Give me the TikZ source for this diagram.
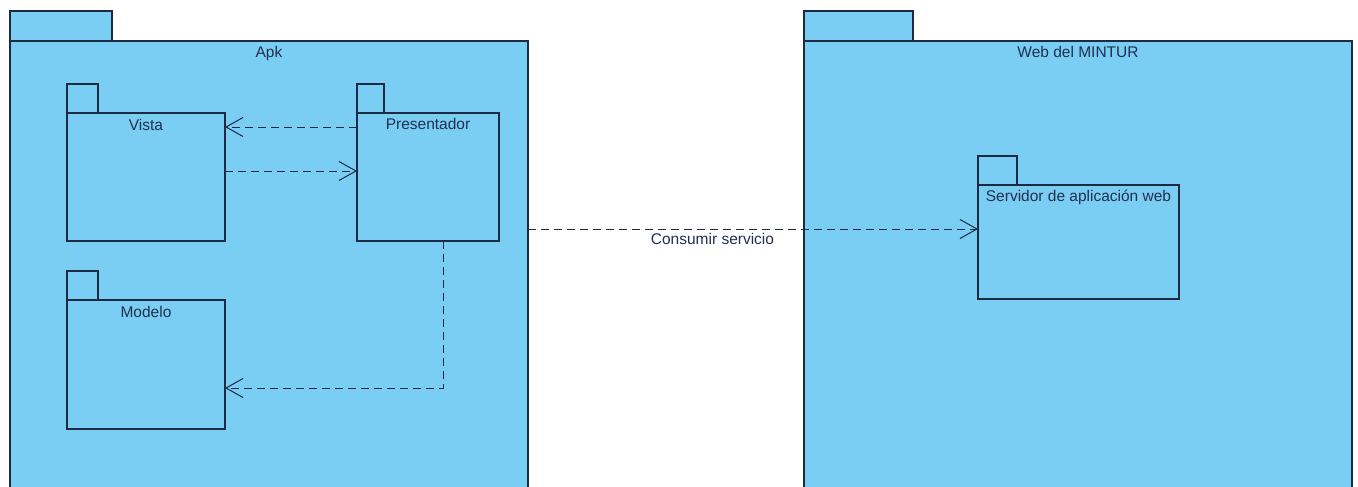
\documentclass[tikz,border=0pt]{standalone}
\usepackage{fontspec}
\setmainfont{Liberation Sans}
\usetikzlibrary{arrows.meta,positioning}
\definecolor{pkgfill}{RGB}{122,205,243}
\definecolor{pkgline}{RGB}{30,42,66}
\definecolor{pkgtext}{RGB}{32,48,80}

\begin{document}
\begin{tikzpicture}[x=1pt, y=-1pt,
    pkg/.style={draw=pkgline, fill=pkgfill, line width=1.1pt, anchor=north west, inner sep=0pt, outer sep=0pt},
    pkgtab/.style={pkg, anchor=south west},
    pkgname/.style={text=pkgtext, font=\fontsize{15.5}{18}\selectfont, inner sep=1pt, anchor=north},
    dep/.style={draw=pkgline, line width=1pt, dash pattern=on 8pt off 5pt, -{Straight Barb[length=17pt, width=19pt, line width=1pt]}}]
  \useasboundingbox (0,0) rectangle (1358,487);
  % outer packages
  \node[pkg, minimum width=518, minimum height=470] (apk) at (10,41) {};
  \node[pkgtab, minimum width=102, minimum height=30] (apk-tab) at (apk.north west) {};
  \node[pkgname, below=4pt of apk.north] (apk-name) {Apk};
  \node[pkg, minimum width=548, minimum height=470] (web) at (804,41) {};
  \node[pkgtab, minimum width=109, minimum height=30] (web-tab) at (web.north west) {};
  \node[pkgname, below=4pt of web.north] (web-name) {Web del MINTUR};
  % inner packages
  \node[pkg, minimum width=158, minimum height=128] (vista) at (67,113) {};
  \node[pkgtab, minimum width=31, minimum height=29] (vista-tab) at (vista.north west) {};
  \node[pkgname, below=5pt of vista.north] (vista-name) {Vista};
  \node[pkg, minimum width=142, minimum height=128] (presentador) at (357,113) {};
  \node[pkgtab, minimum width=27, minimum height=29] (presentador-tab) at (presentador.north west) {};
  \node[pkgname, below=4pt of presentador.north] (presentador-name) {Presentador};
  \node[pkg, minimum width=158, minimum height=129] (modelo) at (67,300) {};
  \node[pkgtab, minimum width=31, minimum height=29] (modelo-tab) at (modelo.north west) {};
  \node[pkgname, below=5pt of modelo.north] (modelo-name) {Modelo};
  \node[pkg, minimum width=201, minimum height=114] (servidor) at (978,185) {};
  \node[pkgtab, minimum width=39, minimum height=29] (servidor-tab) at (servidor.north west) {};
  \node[pkgname, below=4pt of servidor.north] (servidor-name) {Servidor de aplicación web};
  % dependencies
  \path
    ([yshift=-14pt]presentador.north west) edge[dep] ([yshift=-14pt]vista.north east)
    ([yshift=-58pt]vista.north east) edge[dep] ([yshift=-58pt]presentador.north west)
    ([xshift=86pt]presentador.south west) edge[dep, to path={|- (\tikztotarget)}] ([yshift=-88pt]modelo.north east)
    ([yshift=-188pt]apk.north east) edge[dep] node[pos=0.41, below, pkgname, anchor=north, inner sep=4pt] (consumir) {Consumir servicio} ([yshift=-44pt]servidor.north west)
  ;
\end{tikzpicture}
\end{document}
